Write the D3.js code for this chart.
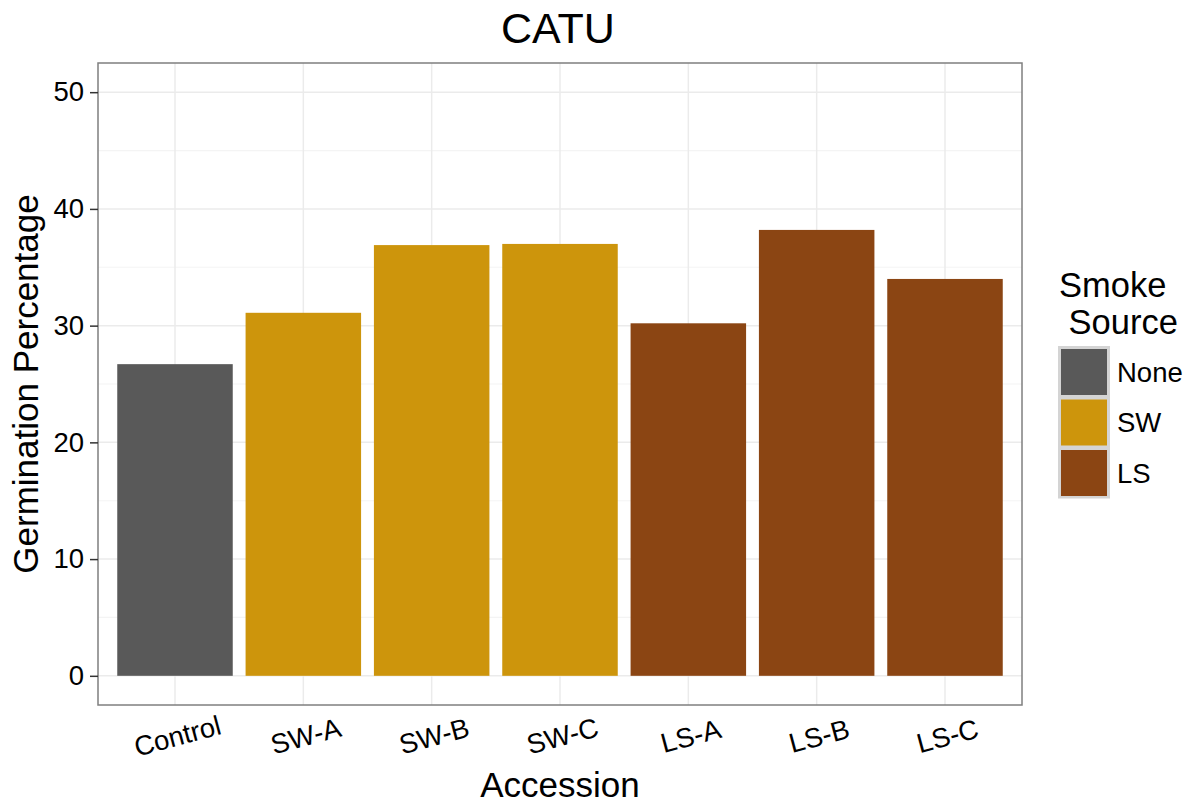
<!DOCTYPE html>
<html>
<head>
<meta charset="utf-8">
<script src="https://cdn.jsdelivr.net/npm/d3@7"></script>
<style>
  html, body { margin: 0; padding: 0; background: #fff; }
  svg { display: block; font-family: "Liberation Sans", Arial, Helvetica, sans-serif; }
</style>
</head>
<body>
<svg id="chart" width="1189" height="804"></svg>
<script>
const categories = ["Control", "SW-A", "SW-B", "SW-C", "LS-A", "LS-B", "LS-C"];
const values = [26.7, 31.1, 36.9, 37.0, 30.2, 38.2, 34.0];
const sources = ["None", "SW", "SW", "SW", "LS", "LS", "LS"];
const legendLabels = ["None", "SW", "LS"];
const legendColors = ["#595959", "#CD950C", "#8B4513"];
const yTicks = [0, 10, 20, 30, 40, 50];
const yMinor = [5, 15, 25, 35, 45];

const svg = d3.select("#chart");
const panel = { left: 98, right: 1022, top: 63, bottom: 705 };

// ggplot discrete scale: 0.6 unit expansion on each side
const x = d3.scalePoint().domain(categories)
  .range([panel.left, panel.right]).padding(0.6);
const barW = x.step() * 0.9;

const y = d3.scaleLinear().domain([-2.5, 52.5]).range([panel.bottom, panel.top]);
const color = d3.scaleOrdinal().domain(legendLabels).range(legendColors);

// panel background
svg.append("rect").attr("x", panel.left).attr("y", panel.top)
  .attr("width", panel.right - panel.left).attr("height", panel.bottom - panel.top)
  .attr("fill", "#fff");

// minor grid
svg.append("g").selectAll("line").data(yMinor).join("line")
  .attr("x1", panel.left).attr("x2", panel.right)
  .attr("y1", d => y(d)).attr("y2", d => y(d))
  .attr("stroke", "#f4f4f4").attr("stroke-width", 1.2);
// major grid
svg.append("g").selectAll("line").data(yTicks).join("line")
  .attr("x1", panel.left).attr("x2", panel.right)
  .attr("y1", d => y(d)).attr("y2", d => y(d))
  .attr("stroke", "#ebebeb").attr("stroke-width", 1.5);
svg.append("g").selectAll("line").data(categories).join("line")
  .attr("x1", d => x(d)).attr("x2", d => x(d))
  .attr("y1", panel.top).attr("y2", panel.bottom)
  .attr("stroke", "#ebebeb").attr("stroke-width", 1.5);

// bars
svg.append("g").selectAll("rect").data(categories).join("rect")
  .attr("x", d => x(d) - barW / 2)
  .attr("width", barW)
  .attr("y", (d, i) => y(values[i]))
  .attr("height", (d, i) => y(0) - y(values[i]))
  .attr("fill", (d, i) => color(sources[i]));

// panel border
svg.append("rect").attr("x", panel.left).attr("y", panel.top)
  .attr("width", panel.right - panel.left).attr("height", panel.bottom - panel.top)
  .attr("fill", "none").attr("stroke", "#7f7f7f").attr("stroke-width", 1.5);

// y axis
const yAxis = d3.axisLeft(y).tickValues(yTicks).tickSize(8).tickPadding(6);
const gy = svg.append("g").attr("transform", `translate(${panel.left},0)`).call(yAxis);
gy.select(".domain").remove();
gy.selectAll(".tick line").attr("stroke", "#333").attr("stroke-width", 1.5);
gy.selectAll(".tick text").attr("font-size", 27.5).attr("fill", "#000")
  .attr("font-family", "Liberation Sans, Arial, sans-serif");

// x axis labels (rotated)
const xAxis = d3.axisBottom(x).tickSize(0).tickPadding(0);
const gx = svg.append("g").attr("transform", `translate(0,${panel.bottom})`).call(xAxis);
gx.select(".domain").remove();
gx.selectAll(".tick text")
  .attr("font-size", 27.5).attr("fill", "#000")
  .attr("font-family", "Liberation Sans, Arial, sans-serif")
  .attr("text-anchor", "middle")
  .attr("dy", null).attr("y", 0)
  .attr("dominant-baseline", "central")
  .attr("transform", "translate(2,31) rotate(-15)");

// titles
svg.append("text").attr("x", 558).attr("y", 43).attr("text-anchor", "middle")
  .attr("font-size", 43).attr("fill", "#000").text("CATU");
svg.append("text").attr("x", 560).attr("y", 797).attr("text-anchor", "middle")
  .attr("font-size", 35).attr("fill", "#000").text("Accession");
svg.append("text").attr("transform", `translate(38,${(panel.top + panel.bottom) / 2}) rotate(-90)`)
  .attr("text-anchor", "middle")
  .attr("font-size", 35).attr("fill", "#000").text("Germination Percentage");

// legend
const lg = svg.append("g");
lg.append("text").attr("x", 1059).attr("y", 297).attr("font-size", 34.5).attr("fill", "#000").text("Smoke");
lg.append("text").attr("x", 1059).attr("y", 334).attr("font-size", 34.5).attr("fill", "#000")
  .attr("xml:space", "preserve").text(" Source");
const keyX = 1058, keyY = 346, keySize = 50.5;
lg.append("rect").attr("x", keyX).attr("y", keyY).attr("width", 52).attr("height", keySize * 3 + 1)
  .attr("fill", "#d4d4d4");
const keys = lg.selectAll("g.key").data(legendLabels).join("g").attr("class", "key")
  .attr("transform", (d, i) => `translate(${keyX},${keyY + i * keySize})`);
keys.append("rect").attr("x", 3).attr("y", 3).attr("width", 46).attr("height", keySize - 4.5)
  .attr("fill", d => color(d));
keys.append("text").attr("x", 59).attr("y", keySize / 2 + 1).attr("dominant-baseline", "central")
  .attr("font-size", 27.5).attr("fill", "#000").text(d => d);
</script>
</body>
</html>
